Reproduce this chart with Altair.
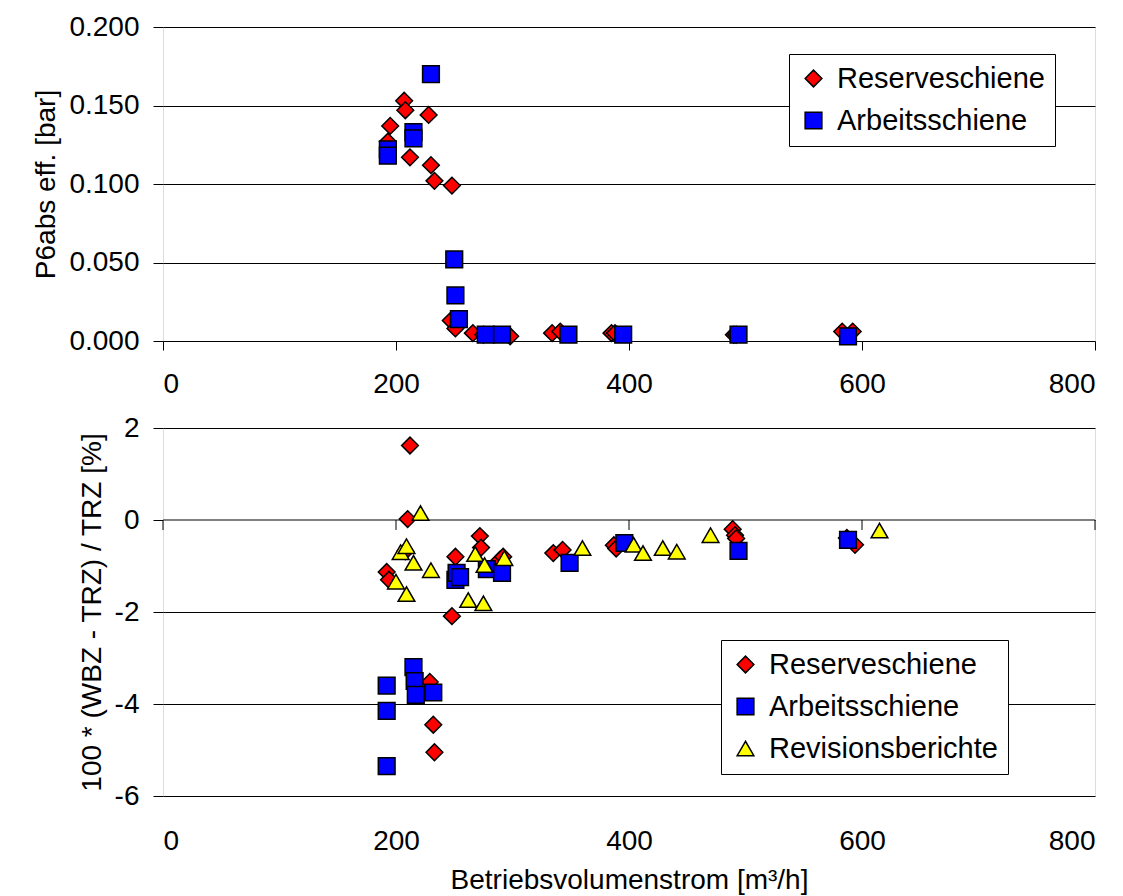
import altair as alt
import pandas as pd

# ---------------- data ----------------
series_top = ["Reserveschiene", "Arbeitsschiene"]
series_bot = ["Reserveschiene", "Arbeitsschiene", "Revisionsberichte"]

top_res_x = [193, 195, 207, 208, 212, 228, 230, 233, 248, 247, 251, 266, 275, 298, 334, 341, 385, 388, 490, 492, 583, 592]
top_res_y = [0.127, 0.137, 0.153, 0.147, 0.117, 0.144, 0.112, 0.102, 0.099, 0.013, 0.008, 0.005, 0.004, 0.003, 0.005, 0.006, 0.005, 0.005, 0.004, 0.004, 0.006, 0.006]

top_arb_x = [193, 193, 215, 215, 230, 250, 251, 254, 277, 291, 348, 395, 494, 588]
top_arb_y = [0.122, 0.118, 0.133, 0.129, 0.170, 0.052, 0.029, 0.014, 0.004, 0.004, 0.004, 0.004, 0.004, 0.003]

bot_res_x = [192, 194, 208, 210, 212, 229, 232, 233, 248, 251, 272, 273, 289, 292, 335, 343, 387, 389, 489, 491, 492, 587, 594]
bot_res_y = [-1.13, -1.30, -0.68, 0.02, 1.62, -3.52, -4.45, -5.05, -2.09, -0.80, -0.35, -0.60, -0.87, -0.80, -0.72, -0.65, -0.55, -0.62, -0.20, -0.33, -0.40, -0.39, -0.54]

bot_arb_x = [192, 192, 192, 215, 216, 217, 232, 251, 252, 255, 278, 291, 349, 396, 494, 588]
bot_arb_y = [-3.60, -4.15, -5.35, -3.20, -3.50, -3.80, -3.75, -1.30, -1.15, -1.24, -1.07, -1.15, -0.93, -0.50, -0.67, -0.43]

bot_rev_x = [200, 204, 209, 209, 215, 221, 230, 262, 268, 275, 276, 293, 360, 404, 412, 429, 441, 470, 615]
bot_rev_y = [-1.34, -0.70, -0.57, -1.61, -0.93, 0.15, -1.09, -1.74, -0.74, -1.81, -0.98, -0.83, -0.61, -0.54, -0.72, -0.61, -0.69, -0.33, -0.23]

x_ticks = [0, 200, 400, 600, 800]
top_y_ticks = [0.0, 0.05, 0.10, 0.15, 0.20]
bot_y_ticks = [-6, -4, -2, 0, 2]

colors = ["#FF0000", "#0000FF", "#FFFF00"]
outline = ["#000000", "#000000", "#000000"]
shapes = ["diamond", "square", "triangle-up"]


def frame(xs, ys, name):
    return pd.DataFrame({"x": xs, "y": ys, "s": name})


top_df = pd.concat([frame(top_res_x, top_res_y, series_top[0]),
                    frame(top_arb_x, top_arb_y, series_top[1])], ignore_index=True)
top_df["o"] = range(len(top_df))
bot_df = pd.concat([frame(bot_res_x, bot_res_y, series_bot[0]),
                    frame(bot_arb_x, bot_arb_y, series_bot[1]),
                    frame(bot_rev_x, bot_rev_y, series_bot[2])], ignore_index=True)
bot_df["o"] = range(len(bot_df))
tick_df = pd.DataFrame({"x": x_ticks, "y": [0] * len(x_ticks)})

FONT = "Liberation Sans"
FS = 28
LFS = 29
W = 932
H_TOP = 314
H_BOT = 368
SYM = 280
SW = 1.5


def legend(x, y):
    return alt.Legend(title=None, orient="none", legendX=x, legendY=y,
                      fillColor="white", strokeColor="black", padding=10,
                      labelFontSize=LFS, labelFont=FONT, labelColor="black",
                      symbolSize=SYM, symbolStrokeColor="black", symbolStrokeWidth=SW,
                      symbolOpacity=1, rowPadding=12, labelOffset=9, labelLimit=400)


def series_enc(domain, lx, ly):
    n = len(domain)
    lg = legend(lx, ly)
    return dict(
        fill=alt.Fill("s:N", scale=alt.Scale(domain=domain, range=colors[:n]), legend=lg),
        shape=alt.Shape("s:N", scale=alt.Scale(domain=domain, range=shapes[:n]), legend=lg),
        stroke=alt.Stroke("s:N", scale=alt.Scale(domain=domain, range=outline[:n]), legend=lg),
    )


x_scale = alt.Scale(domain=[0, 800], nice=False, zero=False)
bot_y_scale = alt.Scale(domain=[-6, 2], nice=False)

top = alt.Chart(top_df).mark_point(filled=True, size=SYM, opacity=1).encode(
    x=alt.X("x:Q", scale=x_scale,
            axis=alt.Axis(values=x_ticks, title=None, grid=False, domain=False,
                          tickSize=9, tickColor="black", labelPadding=20,
                          labelFontSize=FS, labelFont=FONT, labelColor="black")),
    y=alt.Y("y:Q", scale=alt.Scale(domain=[0, 0.2], nice=False),
            axis=alt.Axis(values=top_y_ticks, format=".3f", title="P6abs eff. [bar]",
                          grid=True, gridColor="black", gridWidth=1, gridOpacity=1,
                          domain=False, tickSize=10, tickColor="black", labelPadding=14,
                          labelFontSize=FS, labelFont=FONT, labelColor="black",
                          titleFontSize=FS, titleFont=FONT, titleFontWeight="normal",
                          titleColor="black", titlePadding=8)),
    strokeWidth=alt.value(SW),
    order=alt.Order("o:Q"),
    **series_enc(series_top, 626, 27),
).properties(width=W, height=H_TOP)

bot_x_axis = alt.Axis(values=x_ticks, title="Betriebsvolumenstrom [m³/h]",
                      grid=False, domain=False, ticks=False, labelPadding=31,
                      labelFontSize=FS, labelFont=FONT, labelColor="black",
                      titleFontSize=FS, titleFont=FONT, titleFontWeight="normal",
                      titleColor="black", titlePadding=11)
bot_y_axis = alt.Axis(values=bot_y_ticks, labelExpr="'' + datum.value",
                      title="100 * (WBZ - TRZ) / TRZ [%]",
                      grid=True, gridColor="black", gridWidth=1, gridOpacity=1,
                      domain=False, tickSize=10, tickColor="black", labelPadding=14,
                      labelFontSize=FS, labelFont=FONT, labelColor="black",
                      titleFontSize=FS, titleFont=FONT, titleFontWeight="normal",
                      titleColor="black", titlePadding=8)

# zero line of the lower panel
zero_line = alt.Chart(tick_df).mark_rule(color="#808080", strokeWidth=2).encode(
    y=alt.Y("y:Q", scale=bot_y_scale, axis=bot_y_axis))

# x tick marks sitting on the zero line (short downward strokes)
zero_ticks = alt.Chart(tick_df).mark_point(shape="M0,0V2", size=100, color="black",
                                           strokeWidth=1, filled=False, opacity=1).encode(
    x=alt.X("x:Q", scale=x_scale, axis=bot_x_axis),
    y=alt.Y("y:Q", scale=bot_y_scale, axis=bot_y_axis))

bot_pts = alt.Chart(bot_df).mark_point(filled=True, size=SYM, opacity=1).encode(
    x=alt.X("x:Q", scale=x_scale, axis=bot_x_axis),
    y=alt.Y("y:Q", scale=bot_y_scale, axis=bot_y_axis),
    strokeWidth=alt.value(SW),
    order=alt.Order("o:Q"),
    **series_enc(series_bot, 558, 212),
)

bottom = alt.layer(zero_line, zero_ticks, bot_pts).properties(width=W, height=H_BOT)

chart = alt.vconcat(top, bottom, spacing=14).resolve_scale(
    fill="independent", shape="independent", stroke="independent", y="independent"
).resolve_legend(fill="independent", shape="independent", stroke="independent").properties(
    padding={"left": 24, "top": 4, "right": 5, "bottom": 5}
).configure_view(stroke="black", strokeWidth=1).configure_legend(
    symbolStrokeColor="black", symbolStrokeWidth=SW
).configure(background="white")

chart.save("out.html", embed_options={"renderer": "svg", "actions": False})
